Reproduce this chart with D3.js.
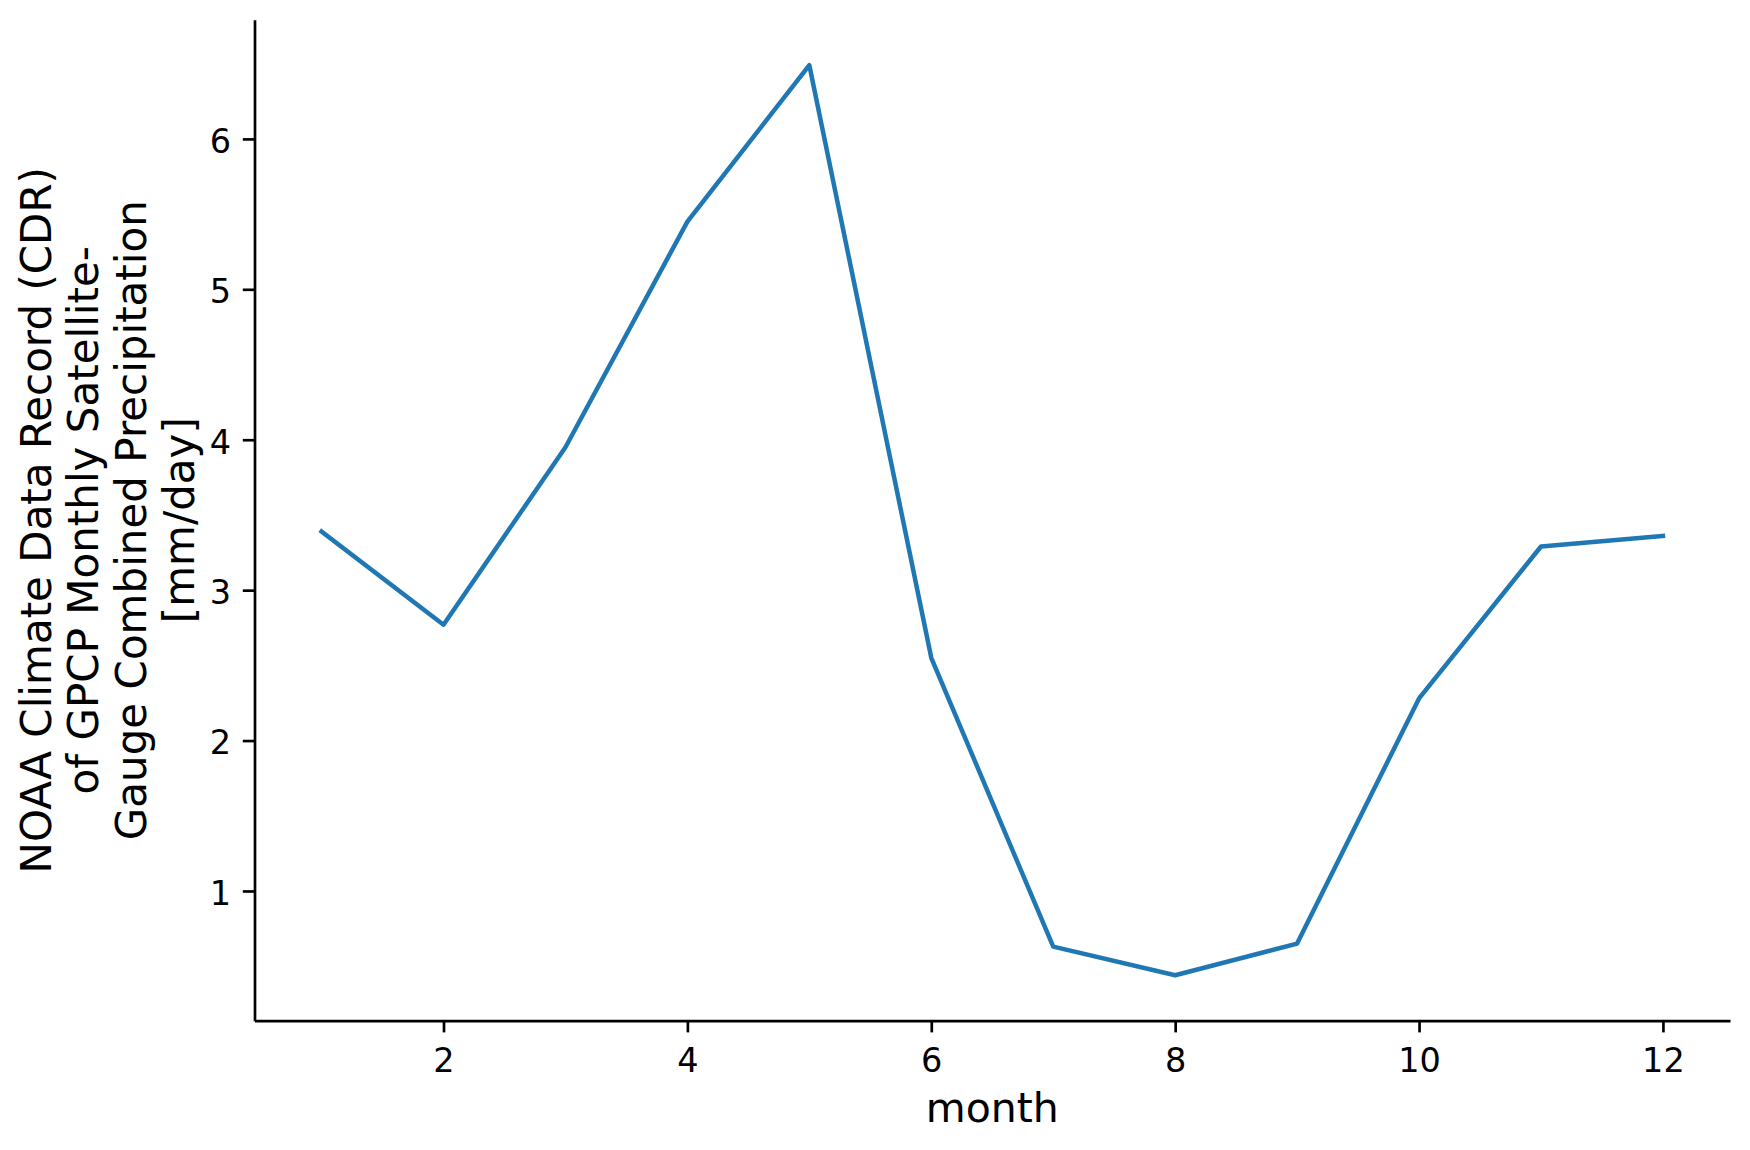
<!DOCTYPE html>
<html>
<head>
<meta charset="utf-8">
<script src="https://cdn.jsdelivr.net/npm/d3@7"></script>
<style>
  body { margin: 0; background: #fff; }
  svg { display: block; font-family: "DejaVu Sans", sans-serif; }
</style>
</head>
<body>
<script>
// monthly climatology
let months = [1, 2, 3, 4, 5, 6, 7, 8, 9, 10, 11, 12];
let precip = [3.39, 2.77, 3.95, 5.45, 6.49, 2.55, 0.63, 0.44, 0.65, 2.28, 3.29, 3.36];
let xTicks = [2, 4, 6, 8, 10, 12];
let yTicks = [1, 2, 3, 4, 5, 6];
let xLabel = "month";
let yLabelLines = [
  "NOAA Climate Data Record (CDR)",
  "of GPCP Monthly Satellite-",
  "Gauge Combined Precipitation",
  "[mm/day]"
];

let width = 1750;
let height = 1150;
let margin = {top: 19.7, right: 20, bottom: 129.3, left: 254.5};

let svg = d3.select("body").append("svg")
    .attr("width", width)
    .attr("height", height);

// matplotlib style 5% padding around the data
function padded(values) {
  let lo = d3.min(values), hi = d3.max(values);
  let pad = (hi - lo) * 0.05;
  return [lo - pad, hi + pad];
}

let x = d3.scaleLinear()
    .domain(padded(months))
    .range([margin.left, width - margin.right]);

let y = d3.scaleLinear()
    .domain(padded(precip))
    .range([height - margin.bottom, margin.top]);

let tickLen = 11.7;

// x axis
let xAxis = svg.append("g")
    .attr("transform", "translate(0," + (height - margin.bottom) + ")")
    .call(d3.axisBottom(x).tickValues(xTicks).tickFormat(d3.format("d"))
            .tickSize(tickLen).tickPadding(16.3).tickSizeOuter(0));

// y axis
let yAxis = svg.append("g")
    .attr("transform", "translate(" + margin.left + ",0)")
    .call(d3.axisLeft(y).tickValues(yTicks).tickFormat(d3.format("d"))
            .tickSize(tickLen).tickPadding(tickLen).tickSizeOuter(0));

[xAxis, yAxis].forEach(function(g) {
  g.select(".domain").attr("stroke", "#000").attr("stroke-width", 2.67);
  g.selectAll(".tick line").attr("stroke", "#000").attr("stroke-width", 2.67);
  g.selectAll(".tick text")
   .attr("fill", "#000")
   .style("font-family", "DejaVu Sans")
   .style("font-size", "33.5px");
});
yAxis.selectAll(".tick text").attr("dy", "0.4em");

// x label
svg.append("text")
    .attr("x", (x.range()[0] + x.range()[1]) / 2)
    .attr("y", 1122.3)
    .attr("text-anchor", "middle")
    .style("font-size", "41px")
    .text(xLabel);

// y label, four centered lines rotated
let yMid = (y.range()[0] + y.range()[1]) / 2;
let yl = svg.append("text")
    .attr("transform", "translate(50.5," + yMid + ") rotate(-90)")
    .attr("text-anchor", "middle")
    .style("font-size", "42px");
yl.selectAll("tspan")
  .data(yLabelLines)
  .enter().append("tspan")
    .attr("x", 0)
    .attr("dy", function(d, i) { return i === 0 ? 0 : 47.8; })
    .text(function(d) { return d; });

// the line
let line = d3.line()
    .x(function(d, i) { return x(months[i]); })
    .y(function(d) { return y(d); });

svg.append("path")
    .datum(precip)
    .attr("fill", "none")
    .attr("stroke", "#1f77b4")
    .attr("stroke-width", 4.5)
    .attr("stroke-linejoin", "round")
    .attr("stroke-linecap", "square")
    .attr("d", line);
</script>
</body>
</html>
